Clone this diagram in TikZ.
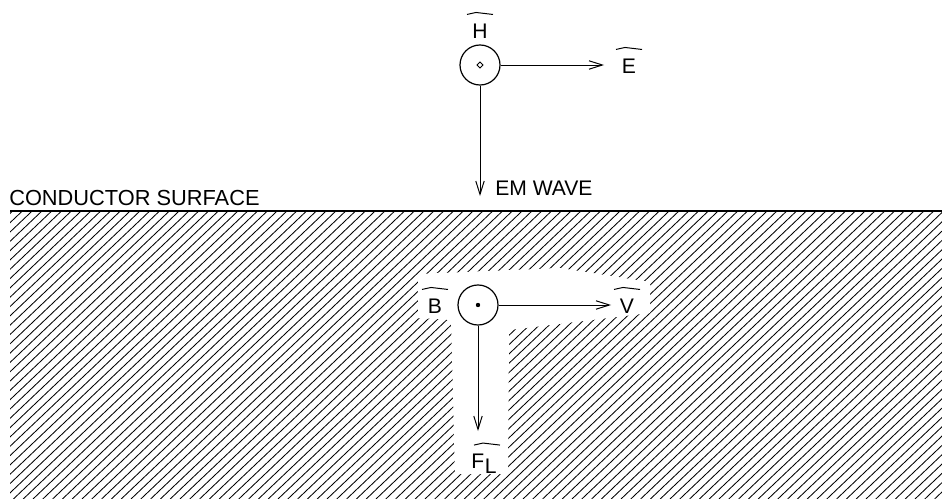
\documentclass[tikz,border=0pt]{standalone}
\usepackage{fontspec}
\setmainfont{Liberation Sans}
\usetikzlibrary{arrows.meta,calc}
\begin{document}
\begin{tikzpicture}[x=0.025cm,y=-0.025cm,
  lbl/.style={inner sep=0pt,font=\fontsize{15pt}{17pt}\selectfont},
  vec/.style={line width=0.7pt,-{Straight Barb[length=9.5pt,width=6pt,line width=0.7pt]}},
  ring/.style={circle,draw,line width=0.85pt,minimum size=1cm,inner sep=0pt},
  hatch/.style={line width=0.6pt},
  bar/.style={line width=0.7pt}]
\useasboundingbox (0,0) rectangle (942,499);
% hatching
\begin{scope}
  \clip (10,211) rectangle (942,499);
  \foreach \i in {0,...,128} { \draw[hatch] ({-310+9.8*\i},499) -- ++(304,-289); }
\end{scope}
% white cut-out round the lower vectors
\fill[white] (418,274) -- (560,268) -- (650,282) -- (650,313) -- (509,330)
  -- (508,474) -- (455,474) -- (451,320) -- (418,318) -- cycle;
% surface
\coordinate (s1) at (10,211);
\coordinate (s2) at (942,211);
\draw[line width=0.8pt] (s1) -- (s2);
\node[lbl,font=\fontsize{15.5pt}{17pt}\selectfont,anchor=base west] (cs) at (9,205) {CONDUCTOR SURFACE};
% upper vectors
\node[ring] (c1) at (480,65) {};
\draw[line width=0.6pt] (480,62) -- (483,65) -- (480,68) -- (477,65) -- cycle;
\node[lbl] (H) at (480,31) {H};
\node[lbl] (E) at (629,66) {E};
\coordinate (etip) at (604,65);
\draw[vec] (c1.east) -- (etip);
\node[lbl,anchor=west] (em) at (495,188) {EM WAVE};
\coordinate (wtip) at (480,196);
\draw[vec] (c1.south) -- (wtip);
% lower vectors
\node[ring] (c2) at (478,305) {};
\fill (478,305) circle (2.2);
\node[lbl] (B) at (435,306) {B};
\node[lbl] (V) at (627,306) {V};
\coordinate (vtip) at (611,305);
\draw[vec] (c2.east) -- (vtip);
\node[lbl] (F) at (484,464) {F\kern0.5pt\raisebox{-0.12cm}{L}};
\coordinate (ftip) at (478,431);
\draw[vec] (c2.south) -- (ftip);
% overbars
\foreach \n in {H,E,B,V} {
  \draw[bar] ($(\n.north)+(-13,-9)$) -- ++(9,-2) -- ++(17,2);
}
\draw[bar] ($(F.north)+(-10,-9)$) -- ++(9,-2) -- ++(17,2);
\end{tikzpicture}
\end{document}
